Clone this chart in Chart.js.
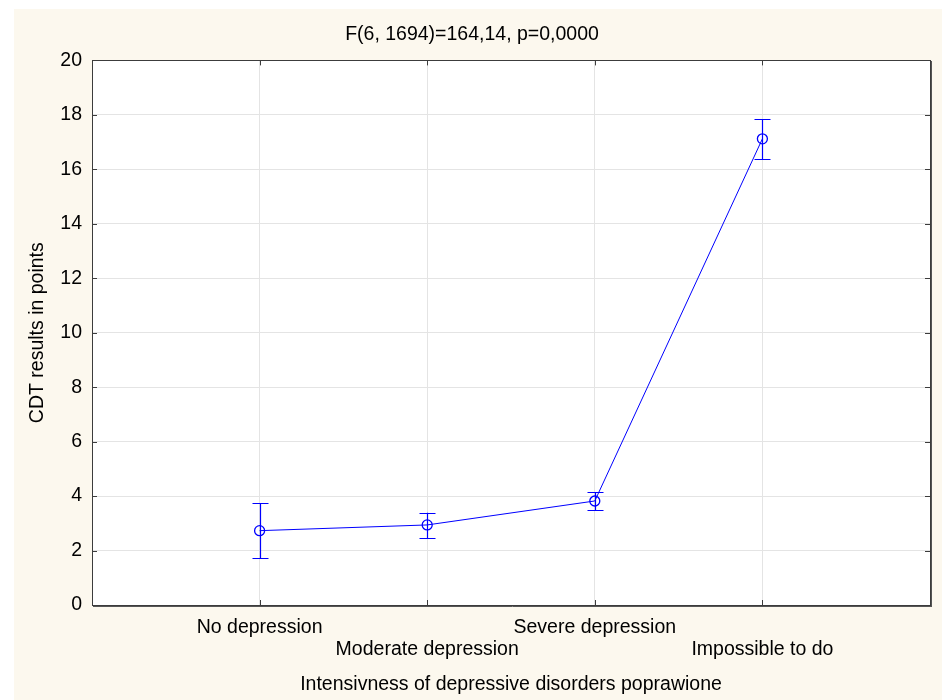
<!DOCTYPE html>
<html>
<head>
<meta charset="utf-8">
<script src="https://cdn.jsdelivr.net/npm/chart.js@4"></script>
<style>
  html, body { margin: 0; padding: 0; background: #fff; }
</style>
</head>
<body>
<canvas id="cdtChart" width="942" height="700"></canvas>
<script>
// Data (means with error bar limits)
const categories = ['No depression', 'Moderate depression', 'Severe depression', 'Impossible to do'];
const means = [2.73, 2.94, 3.82, 17.12];
const upper = [3.74, 3.39, 4.15, 17.84];
const lower = [1.73, 2.46, 3.49, 16.37];

const chartTitle = 'F(6, 1694)=164,14, p=0,0000';
const xTitle = 'Intensivness of depressive disorders poprawione';
const yTitle = 'CDT results in points';

const colors = {
  line: '#0000ff',
  grid: '#e4e4e4',
  frame: '#3c3c3c',
  cream: '#fcf8ee'
};

const FONT_SIZE = 19.5;

Chart.defaults.font.family = '"Liberation Sans", Arial, sans-serif';
Chart.defaults.font.size = FONT_SIZE;
Chart.defaults.color = '#000';

// Background: white page, cream panel, white plot area
const backgroundPlugin = {
  id: 'background',
  beforeDraw(chart) {
    const { ctx, chartArea: a } = chart;
    ctx.save();
    ctx.fillStyle = '#fff';
    ctx.fillRect(0, 0, chart.width, chart.height);
    ctx.fillStyle = colors.cream;
    ctx.fillRect(14, 9, chart.width - 14, chart.height - 9);
    ctx.fillStyle = '#fff';
    ctx.fillRect(a.left, a.top, a.right - a.left, a.bottom - a.top);
    ctx.restore();
  }
};

// Error bars drawn through the scales
const errorBarPlugin = {
  id: 'errorBars',
  afterDatasetsDraw(chart) {
    const { ctx, scales: { x, y } } = chart;
    ctx.save();
    ctx.strokeStyle = colors.line;
    ctx.lineWidth = 1.2;
    means.forEach((m, i) => {
      const px = Math.round(x.getPixelForValue(i + 1)) + 0.5;
      const top = y.getPixelForValue(upper[i]);
      const bot = y.getPixelForValue(lower[i]);
      ctx.beginPath();
      ctx.moveTo(px, top);
      ctx.lineTo(px, bot);
      ctx.moveTo(px - 8, Math.round(top) + 0.5);
      ctx.lineTo(px + 8, Math.round(top) + 0.5);
      ctx.moveTo(px - 8, Math.round(bot) + 0.5);
      ctx.lineTo(px + 8, Math.round(bot) + 0.5);
      ctx.stroke();
    });
    ctx.restore();
  }
};

// Frame with inward tick marks
const framePlugin = {
  id: 'frame',
  afterDraw(chart) {
    const { ctx, chartArea: a, scales: { x, y } } = chart;
    ctx.save();
    ctx.strokeStyle = colors.frame;
    ctx.lineWidth = 1;
    ctx.beginPath();
    y.ticks.forEach(t => {
      const py = Math.round(y.getPixelForValue(t.value)) + 0.5;
      ctx.moveTo(a.left, py);
      ctx.lineTo(a.left + 5, py);
      ctx.moveTo(a.right, py);
      ctx.lineTo(a.right - 5, py);
    });
    x.ticks.forEach(t => {
      const px = Math.round(x.getPixelForValue(t.value)) + 0.5;
      ctx.moveTo(px, a.bottom);
      ctx.lineTo(px, a.bottom - 5);
      ctx.moveTo(px, a.top);
      ctx.lineTo(px, a.top + 5);
    });
    ctx.stroke();
    ctx.strokeRect(Math.round(a.left) + 0.5, Math.round(a.top) + 0.5,
      Math.round(a.right - a.left), Math.round(a.bottom - a.top));
    // darker shadow on right and bottom edges
    ctx.strokeStyle = '#555';
    ctx.beginPath();
    ctx.moveTo(Math.round(a.right) + 1.5, Math.round(a.top) + 1);
    ctx.lineTo(Math.round(a.right) + 1.5, Math.round(a.bottom) + 2);
    ctx.moveTo(Math.round(a.left) + 1, Math.round(a.bottom) + 1.5);
    ctx.lineTo(Math.round(a.right) + 2, Math.round(a.bottom) + 1.5);
    ctx.stroke();
    ctx.restore();
  }
};

const ctx = document.getElementById('cdtChart').getContext('2d');

const cdtChart = new Chart(ctx, {
  type: 'line',
  data: {
    datasets: [{
      label: 'CDT',
      data: means.map((m, i) => ({ x: i + 1, y: m })),
      borderColor: colors.line,
      backgroundColor: 'rgba(0,0,0,0)',
      borderWidth: 1,
      tension: 0,
      pointStyle: 'circle',
      pointRadius: 5,
      pointBorderWidth: 1.3,
      pointBorderColor: colors.line,
      pointBackgroundColor: 'rgba(0,0,0,0)'
    }]
  },
  options: {
    responsive: false,
    animation: false,
    layout: {
      padding: { left: 14, top: 0, right: 12, bottom: 0 }
    },
    plugins: {
      legend: { display: false },
      tooltip: { enabled: false },
      title: {
        display: true,
        text: chartTitle,
        font: { size: FONT_SIZE, weight: 'normal' },
        color: '#000',
        padding: { top: 23, bottom: 14 }
      }
    },
    scales: {
      x: {
        type: 'linear',
        min: 0,
        max: 5,
        afterFit: (scale) => { scale.height = 95; },
        ticks: {
          stepSize: 1,
          autoSkip: false,
          maxRotation: 0,
          padding: 12,
          font: { size: FONT_SIZE, lineHeight: 22 / FONT_SIZE },
          callback: (value) => {
            const i = value - 1;
            if (i < 0 || i >= categories.length) return '';
            return i % 2 === 0 ? [categories[i], ''] : ['', categories[i]];
          }
        },
        grid: {
          drawTicks: false,
          color: (c) => (c.tick && (c.tick.value === 0 || c.tick.value === 5)) ? 'rgba(0,0,0,0)' : colors.grid
        },
        border: { display: false },
        title: {
          display: true,
          text: xTitle,
          font: { size: FONT_SIZE },
          padding: { top: 0, bottom: 4 }
        }
      },
      y: {
        min: 0,
        max: 20,
        afterFit: (scale) => { scale.width = 78; },
        ticks: {
          stepSize: 2,
          padding: 10,
          font: { size: FONT_SIZE }
        },
        grid: {
          drawTicks: false,
          color: colors.grid
        },
        border: { display: false },
        title: {
          display: true,
          text: yTitle,
          font: { size: FONT_SIZE },
          padding: { top: 12, bottom: 0 }
        }
      }
    }
  },
  plugins: [backgroundPlugin, errorBarPlugin, framePlugin]
});
</script>
</body>
</html>
